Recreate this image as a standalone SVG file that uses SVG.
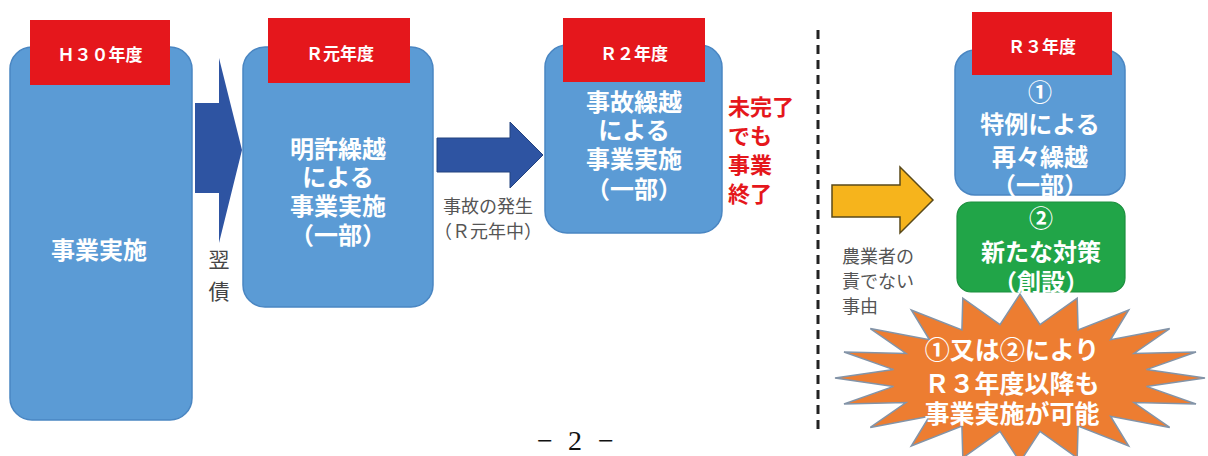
<svg xmlns="http://www.w3.org/2000/svg" width="1208" height="456" viewBox="0 0 1208 456">
<style>
.box{fill:#5B9BD5;stroke:#4A86C2;stroke-width:1.5}
.lbl{fill:#E5171C}
.jp{font-family:"Noto Sans CJK JP","Noto Sans",sans-serif}
.lt{font-size:17px;font-weight:bold;fill:#fff;text-anchor:middle;dominant-baseline:central}
.bt{font-size:24px;font-weight:bold;fill:#fff;text-anchor:middle;dominant-baseline:central}
.gt{font-size:18px;fill:#555;dominant-baseline:central}
.rt{font-size:22px;font-weight:bold;fill:#E5171C;dominant-baseline:central}
</style>
<rect width="1208" height="456" fill="#fff"/>
<g id="h30">
<rect class="box" x="10" y="47" width="182" height="373" rx="22"/>
<rect class="lbl" x="30" y="20" width="140" height="65"/>
<text class="jp lt" x="100" y="53">Ｈ３０年度</text>
<text class="jp bt" x="99" y="248">事業実施</text>
</g>
<g id="r1">
<rect class="box" x="243" y="47" width="190" height="260" rx="22"/>
<rect class="lbl" x="268" y="18" width="142" height="65"/>
<text class="jp lt" x="340" y="52">Ｒ元年度</text>
<text class="jp bt" x="338" y="147"><tspan x="338">明許繰越</tspan><tspan x="338" dy="28">による</tspan><tspan x="338" dy="29">事業実施</tspan><tspan x="338" dy="29">（一部）</tspan></text>
</g>
<g id="r2">
<rect class="box" x="545" y="45" width="177" height="188" rx="22"/>
<rect class="lbl" x="563" y="18" width="142" height="64"/>
<text class="jp lt" x="634" y="52">Ｒ２年度</text>
<text class="jp bt" x="634" y="100"><tspan x="634">事故繰越</tspan><tspan x="634" dy="28">による</tspan><tspan x="634" dy="29">事業実施</tspan><tspan x="634" dy="30">（一部）</tspan></text>
</g>
<g id="r3">
<rect class="box" x="955" y="50" width="170" height="145" rx="20"/>
<rect class="lbl" x="972" y="12" width="140" height="63"/>
<text class="jp lt" x="1042" y="45">Ｒ３年度</text>
<text class="jp bt" x="1040" y="90"><tspan x="1040">①</tspan><tspan x="1040" dy="32">特例による</tspan><tspan x="1040" dy="33">再々繰越</tspan><tspan x="1040" dy="28">（一部）</tspan></text>
</g>
<g id="new">
<rect x="957" y="202" width="168" height="90" rx="14" fill="#21A548" stroke="#1C8F3E" stroke-width="1.2"/>
<text class="jp bt" x="1041" y="216"><tspan x="1041">②</tspan><tspan x="1041" dy="34">新たな対策</tspan><tspan x="1041" dy="30">（創設）</tspan></text>
</g>
<g id="burst">
<polygon points="1205,378 1146.4,386.4 1196,404 1134,402.5 1169.7,427.4 1110.5,416.2 1128.7,446 1078.1,426.1 1077.2,457.9 1040,431.3 1020,462 1000,431.3 962.8,457.9 961.9,426.1 911.3,446 929.5,416.2 870.3,427.4 906,402.5 844,404 893.6,386.4 835,378 893.6,369.6 844,352 906,353.5 870.3,328.6 929.5,339.8 911.3,310 961.9,329.9 962.8,298.1 1000,324.7 1020,294 1040,324.7 1077.2,298.1 1078.1,329.9 1128.7,310 1110.5,339.8 1169.7,328.6 1134,353.5 1196,352 1146.4,369.6" fill="#ED7D31" stroke="#8394A8" stroke-width="1.5"/>
<text class="jp bt" x="1012" y="348" style="font-size:25px"><tspan x="1012">①又は②により</tspan><tspan x="1012" dy="34">Ｒ３年度以降も</tspan><tspan x="1012" dy="30">事業実施が可能</tspan></text>
</g>
<g id="connectors">
<polygon points="195,103 219,103 219,58 242,150 219,243 219,193 195,193" fill="#2E54A2"/>
<polygon points="437,138 510,138 510,122 543,155 510,188 510,172 437,172" fill="#2E54A2" stroke="#23437F" stroke-width="1"/>
<polygon points="832,185 900,185 900,167 933,200 900,233 900,217 832,217" fill="#F6B41C" stroke="#5A4A1A" stroke-width="1.5"/>
<line x1="818" y1="30" x2="818" y2="432" stroke="#222" stroke-width="3" stroke-dasharray="9 6"/>
</g>
<g id="labels">
<text class="jp gt" x="219" y="258" text-anchor="middle" style="font-size:21px;fill:#444"><tspan x="219">翌</tspan><tspan x="219" dy="32">債</tspan></text>
<text class="jp gt" x="488" y="205" text-anchor="middle"><tspan x="488">事故の発生</tspan><tspan x="488" dy="25">（Ｒ元年中）</tspan></text>
<text class="jp rt" x="728" y="105"><tspan x="728">未完了</tspan><tspan x="728" dy="29">でも</tspan><tspan x="728" dy="29">事業</tspan><tspan x="728" dy="29">終了</tspan></text>
<text class="jp gt" x="842" y="255"><tspan x="842">農業者の</tspan><tspan x="842" dy="25">責でない</tspan><tspan x="842" dy="25">事由</tspan></text>
</g>
<text x="577" y="450" font-family="Liberation Serif,serif" font-size="28" fill="#111"><tspan x="545" text-anchor="middle">−</tspan><tspan x="575" text-anchor="middle">2</tspan><tspan x="606" text-anchor="middle">−</tspan></text>
</svg>
